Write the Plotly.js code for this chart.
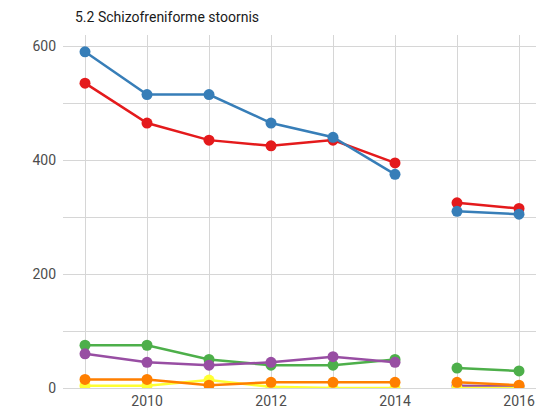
<!DOCTYPE html>
<html>
<head>
<meta charset="utf-8">
<script src="https://cdn.plot.ly/plotly-3.0.1.min.js"></script>
<style>html,body{margin:0;padding:0;background:#fff;}#chart{width:536px;height:409px;}</style>
</head>
<body>
<div id="chart"></div>
<script>
const years = [2009, 2010, 2011, 2012, 2013, 2014, 2015, 2016];
// line breaks between these year groups
const segmentStarts = [0, 6];

const seriesNames = ["A", "B", "C", "D", "F", "E"];
const seriesColors = ["#E41A1C", "#377EB8", "#4DAF4A", "#984EA3", "#FFFF33", "#FF7F00"];

const redValues    = [535, 465, 435, 425, 435, 395, 325, 315];
const blueValues   = [590, 515, 515, 465, 440, 375, 310, 305];
const greenValues  = [75, 75, 50, 40, 40, 50, 35, 30];
const purpleValues = [60, 45, 40, 45, 55, 45, 4, 3];
const yellowValues = [4, 4, 14, 2, 0, 0, 0, 0];
const orangeValues = [15, 15, 5, 10, 10, 10, 10, 5];

const allValues = [redValues, blueValues, greenValues, purpleValues, yellowValues, orangeValues];

const traces = [];
allValues.forEach((vals, i) => {
  segmentStarts.forEach((s, k) => {
    const e = k + 1 < segmentStarts.length ? segmentStarts[k + 1] : years.length;
    traces.push({
      x: years.slice(s, e),
      y: vals.slice(s, e),
      type: "scatter",
      mode: "lines+markers",
      name: seriesNames[i],
      legendgroup: seriesNames[i],
      showlegend: false,
      line: {color: seriesColors[i], width: 2.5},
      marker: {color: seriesColors[i], size: 11},
      cliponaxis: true
    });
  });
});

const layout = {
  width: 536,
  height: 409,
  margin: {l: 63, r: 0, t: 35, b: 21},
  paper_bgcolor: "#fff",
  plot_bgcolor: "#fff",
  showlegend: false,
  font: {family: "Roboto, sans-serif", color: "#4d4d4d", size: 14},
  title: {
    text: "5.2 Schizofreniforme stoornis",
    x: 0, xref: "paper", xanchor: "left",
    y: 0.958, yref: "container", yanchor: "middle",
    pad: {l: 12},
    font: {family: "Roboto, sans-serif", size: 14, color: "#1a1a1a"}
  },
  xaxis: {
    range: [2008.645, 2016.274],
    tickmode: "array",
    tickvals: [2010, 2012, 2014, 2016],
    ticktext: ["2010", "2012", "2014", "2016"],
    showgrid: true,
    gridcolor: "#d6d6d6",
    gridwidth: 1,
    minor: {tickmode: "array", tickvals: [2009, 2011, 2013, 2015], showgrid: true, gridcolor: "#d6d6d6", gridwidth: 1},
    zeroline: false,
    showline: false,
    ticks: "",
    ticklabelstandoff: 3,
    tickfont: {size: 14, color: "#4d4d4d"},
    fixedrange: true
  },
  yaxis: {
    range: [0, 619.5],
    tickmode: "array",
    tickvals: [0, 200, 400, 600],
    ticktext: ["0", "200", "400", "600"],
    showgrid: true,
    gridcolor: "#d6d6d6",
    gridwidth: 1,
    minor: {tickmode: "array", tickvals: [100, 300, 500], showgrid: true, gridcolor: "#d6d6d6", gridwidth: 1},
    zeroline: true,
    zerolinecolor: "#d6d6d6",
    zerolinewidth: 1,
    showline: false,
    ticks: "",
    ticklabelstandoff: 6,
    tickfont: {size: 14, color: "#4d4d4d"},
    fixedrange: true
  }
};

Plotly.newPlot("chart", traces, layout, {displayModeBar: false, staticPlot: true});
</script>
</body>
</html>
